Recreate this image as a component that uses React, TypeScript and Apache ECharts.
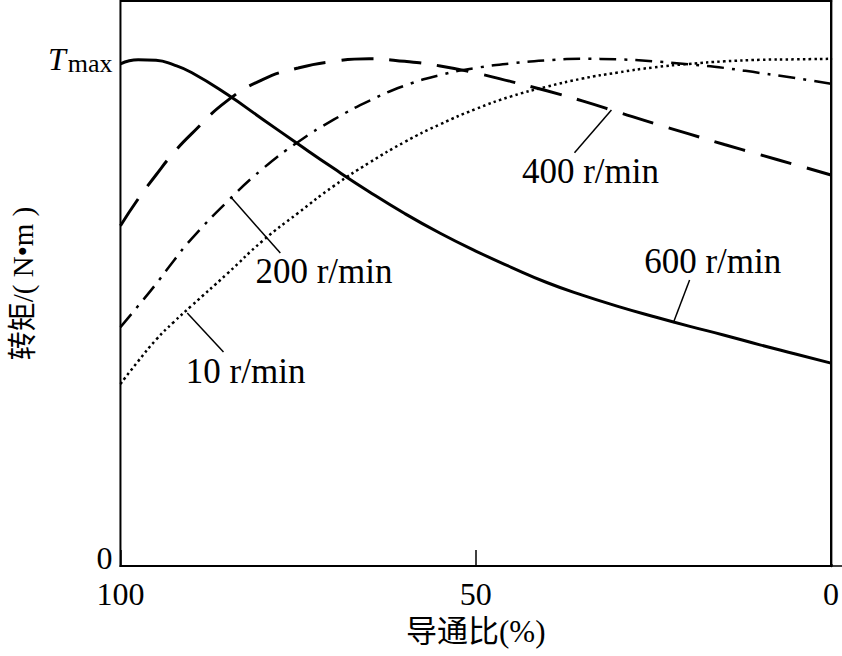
import React, { useEffect, useRef } from "react";
import * as echarts from "echarts";

// 导通比 (%) sample positions
const conductionRatio = [100, 97.5, 95, 92.5, 90, 85, 80, 75, 70, 65, 60, 55, 50, 45, 40, 35, 30, 25, 20, 15, 10, 5, 0];
// Torque as a fraction of Tmax
const torque600 = [0.99, 0.998, 0.997, 0.988, 0.973, 0.93, 0.881, 0.832, 0.784, 0.738, 0.695, 0.656, 0.621, 0.589, 0.559, 0.534, 0.512, 0.492, 0.473, 0.455, 0.436, 0.418, 0.4];
const torque400 = [0.671, 0.724, 0.771, 0.815, 0.852, 0.917, 0.959, 0.982, 0.995, 1.0, 0.995, 0.986, 0.972, 0.955, 0.937, 0.917, 0.895, 0.873, 0.852, 0.831, 0.811, 0.791, 0.771];
const torque200 = [0.471, 0.513, 0.556, 0.602, 0.645, 0.718, 0.783, 0.836, 0.88, 0.917, 0.947, 0.968, 0.982, 0.991, 0.997, 1.0, 0.999, 0.995, 0.989, 0.982, 0.972, 0.962, 0.951];
const torque10 = [0.359, 0.404, 0.446, 0.481, 0.513, 0.576, 0.641, 0.696, 0.749, 0.795, 0.836, 0.871, 0.901, 0.926, 0.945, 0.961, 0.973, 0.983, 0.99, 0.995, 0.998, 0.999, 1.0];

const seriesNames = ["600 r/min", "400 r/min", "200 r/min", "10 r/min"];
const yTickLabels = ["0", "Tmax"];
const xAxisTitle = "导通比(%)";
const yAxisTitle = "转矩/( N•m )";

// annotation layout (data coordinates): leader start on curve, leader end, label anchor (left-middle)
const annotations = [
  { name: "200 r/min", from: [84.5, 0.728], to: [77.5, 0.617], label: [81.0, 0.58] },
  { name: "10 r/min", from: [90.6, 0.499], to: [85.5, 0.422], label: [90.8, 0.383] },
  { name: "400 r/min", from: [30.9, 0.899], to: [36.1, 0.815], label: [43.5, 0.777] },
  { name: "600 r/min", from: [22.2, 0.479], to: [19.9, 0.564], label: [26.3, 0.6] },
];

const SERIF = '"Liberation Serif", "Times New Roman", serif';
const CJK = '"Liberation Serif", "Noto Sans CJK SC", serif';

function pairs(ys: number[]) {
  return conductionRatio.map((x, i) => [x, ys[i]]);
}

export default function App() {
  const ref = useRef<HTMLDivElement>(null);
  useEffect(() => {
    if (!ref.current) return;
    const chart = echarts.init(ref.current, undefined, { renderer: "svg" });
    const lineCommon = { type: "line", smooth: true, showSymbol: false, symbol: "none", silent: true, clip: true };
    chart.setOption({
      animation: false,
      backgroundColor: "#fff",
      grid: { left: 119, right: 8, top: 1, bottom: 90, show: true, borderColor: "#000", borderWidth: 2, backgroundColor: "transparent" },
      xAxis: {
        type: "value",
        inverse: true,
        min: 0,
        max: 100,
        interval: 50,
        name: xAxisTitle,
        nameLocation: "middle",
        nameGap: 50,
        nameTextStyle: { fontSize: 31, color: "#000", fontFamily: CJK },
        axisLine: { show: true, lineStyle: { color: "#000", width: 2 } },
        axisTick: { show: true, inside: true, length: 16, lineStyle: { color: "#000", width: 1.5 } },
        axisLabel: { fontSize: 32, color: "#000", fontFamily: SERIF, margin: 12 },
        splitLine: { show: false },
      },
      yAxis: {
        type: "value",
        min: 0,
        max: 1.114,
        interval: 1,
        name: yAxisTitle,
        nameLocation: "middle",
        nameGap: 80,
        nameRotate: 90,
        nameTextStyle: { fontSize: 29, color: "#000", fontFamily: CJK },
        axisLine: { show: true, lineStyle: { color: "#000", width: 2.5 } },
        axisTick: { show: true, inside: true, length: 12, lineStyle: { color: "#000", width: 1.5 } },
        axisLabel: {
          margin: 8,
          color: "#000",
          fontFamily: SERIF,
          fontSize: 32,
          formatter: (v: number) => (v === 0 ? "{z|" + yTickLabels[0] + "}" : v === 1 ? "{t|T}{m|max}" : ""),
          rich: {
            z: { fontSize: 32, fontFamily: SERIF, color: "#000", padding: [0, 0, 16, 0] },
            t: { fontSize: 32, fontStyle: "italic", fontFamily: SERIF, color: "#000" },
            m: { fontSize: 26, fontFamily: SERIF, color: "#000", padding: [10, 0, 0, 2] },
          },
        },
        splitLine: { show: false },
      },
      series: [
        { ...lineCommon, name: seriesNames[0], data: pairs(torque600), lineStyle: { color: "#000", width: 3, type: "solid" } },
        { ...lineCommon, name: seriesNames[1], data: pairs(torque400), lineStyle: { color: "#000", width: 3, type: [32, 16] } },
        { ...lineCommon, name: seriesNames[2], data: pairs(torque200), lineStyle: { color: "#000", width: 2.5, type: [17, 8, 3, 8] } },
        { ...lineCommon, name: seriesNames[3], data: pairs(torque10), lineStyle: { color: "#000", width: 2.5, type: [2.5, 3.2] } },
      ],
    });

    const px = (p: number[]) => chart.convertToPixel({ gridIndex: 0 }, p) as number[];
    const graphic: any[] = [];
    annotations.forEach((a) => {
      const f = px(a.from);
      const t = px(a.to);
      const l = px(a.label);
      graphic.push({
        type: "line",
        silent: true,
        shape: { x1: f[0], y1: f[1], x2: t[0], y2: t[1] },
        style: { stroke: "#000", lineWidth: 1.5 },
      });
      graphic.push({
        type: "text",
        silent: true,
        x: l[0],
        y: l[1],
        style: { text: a.name, fill: "#000", fontSize: 35, fontFamily: SERIF, align: "left", verticalAlign: "middle" },
      });
    });
    // keep the margin right of the plot frame blank
    const topRight = px([0, 1.114]);
    const bottomRight = px([0, 0]);
    graphic.push({
      type: "rect",
      silent: true,
      z: 100,
      shape: { x: topRight[0] + 1.5, y: 0, width: 20, height: bottomRight[1] - 2 },
      style: { fill: "#fff" },
    });
    chart.setOption({ graphic });

    return () => chart.dispose();
  }, []);
  return <div ref={ref} style={{ position: "absolute", left: 0, top: 0, width: 842, height: 656 }} />;
}
